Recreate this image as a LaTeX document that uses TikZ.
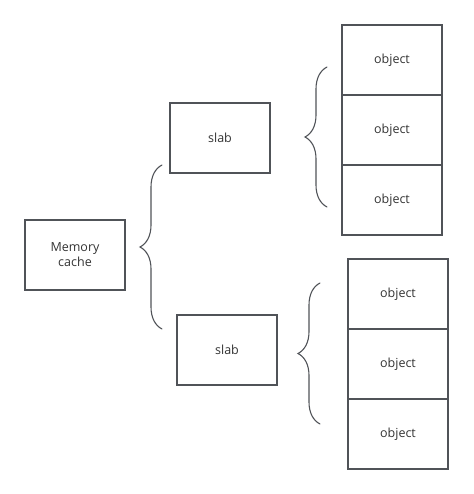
\documentclass[tikz,border=0pt]{standalone}
\usepackage{fontspec}
\setmainfont{Open Sans}
\usetikzlibrary{decorations.pathreplacing}
\definecolor{linegray}{RGB}{80,83,88}
\definecolor{textgray}{RGB}{51,51,51}

\begin{document}
\begin{tikzpicture}
  [
    x=1pt, y=-1pt,
    font=\fontsize{12.5}{15}\selectfont, text=textgray,
    block/.style =
      {draw=linegray, line width=1.3pt, rectangle, align=center,
       minimum width=100pt, minimum height=70pt, outer sep=0pt},
    cell/.style =
      {block, minimum height=70pt},
    curly/.style =
      {draw=linegray, line width=1.1pt, line cap=round,
       decorate, decoration={brace, amplitude=22pt}}
  ]
  \useasboundingbox (0,0) rectangle (473,494);

  \node [block] at ( 75,255) (mc) {Memory\\cache};
  \node [block] at (220,138) (s1) {slab};
  \node [block] at (227,350) (s2) {slab};

  \node [cell] at (392, 60) (o11) {object};
  \node [cell] at (392,130) (o12) {object};
  \node [cell] at (392,200) (o13) {object};

  \node [cell] at (398,294) (o21) {object};
  \node [cell] at (398,364) (o22) {object};
  \node [cell] at (398,434) (o23) {object};

  \coordinate (b1s) at (162,329);
  \coordinate (b1e) at (162,165);
  \coordinate (b2s) at (327,207);
  \coordinate (b2e) at (327, 67);
  \coordinate (b3s) at (320,424);
  \coordinate (b3e) at (320,283);

  \draw [curly] (b1s) -- (b1e);
  \draw [curly] (b2s) -- (b2e);
  \draw [curly] (b3s) -- (b3e);

\end{tikzpicture}
\end{document}
